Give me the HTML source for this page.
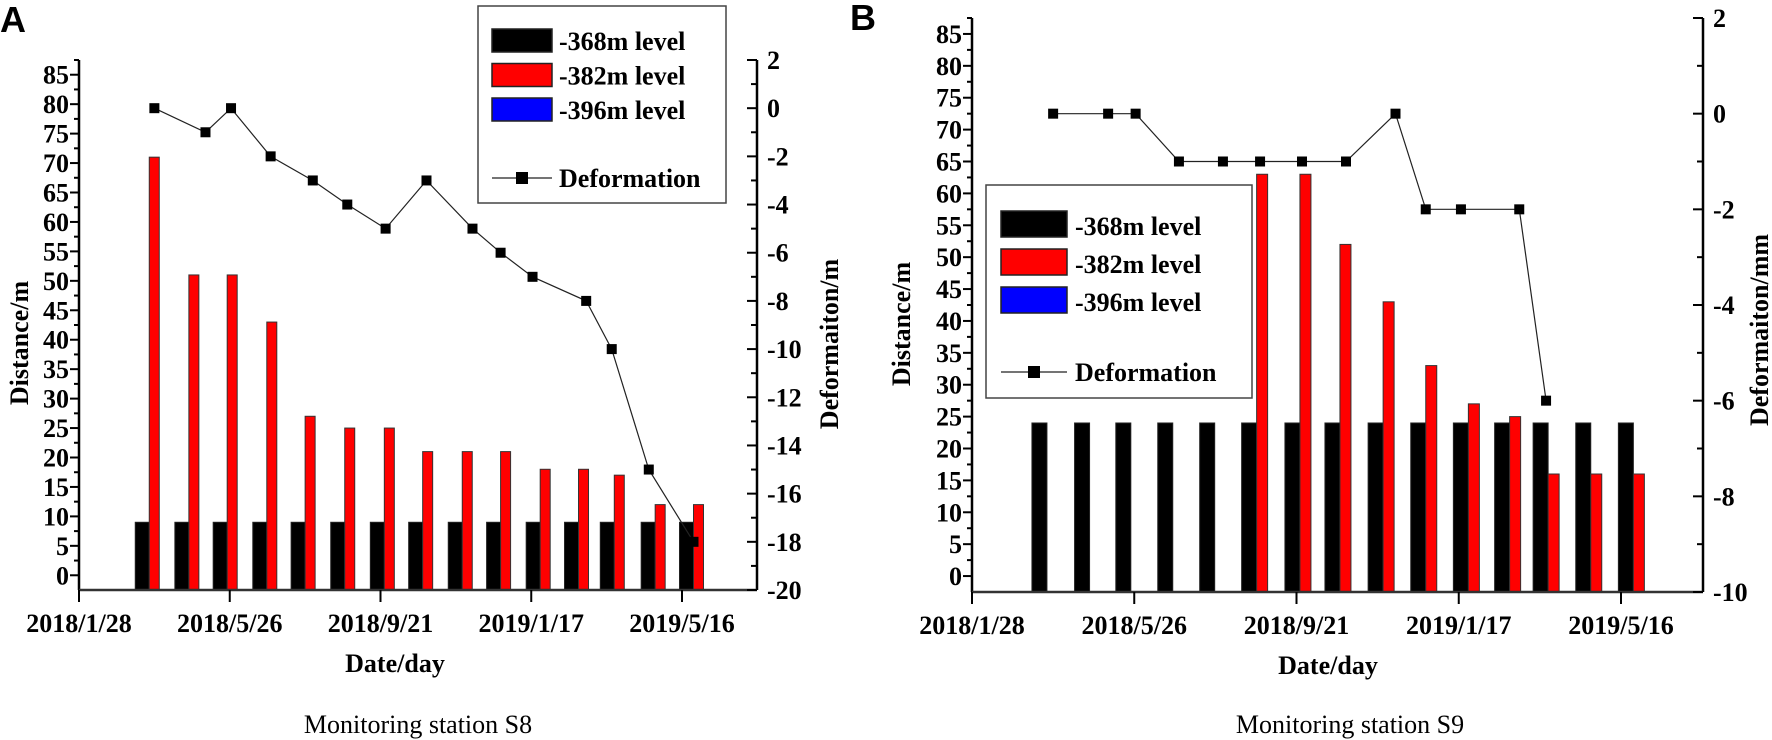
<!DOCTYPE html>
<html><head><meta charset="utf-8"><style>
html,body{margin:0;padding:0;background:#fff;}
svg{display:block;font-family:"Liberation Serif",serif;}
.tk{font-weight:bold;font-size:26px;fill:#000;}
.lg{font-weight:bold;font-size:26px;fill:#000;}
</style></head><body>
<svg id="chart" width="1772" height="740" viewBox="0 0 1772 740" xmlns="http://www.w3.org/2000/svg">
<text x="0" y="32" font-family="Liberation Sans, sans-serif" font-weight="bold" font-size="36">A</text>
<text x="850" y="30" font-family="Liberation Sans, sans-serif" font-weight="bold" font-size="36">B</text>
<text x="418" y="733" text-anchor="middle" font-size="26">Monitoring station S8</text>
<text x="1350" y="733" text-anchor="middle" font-size="26">Monitoring station S9</text>
</svg>
<script>
// x tick labels (days since 2018/1/28)
const xTickDays = [0, 118, 236, 354, 472];
const xTickLabels = ["2018/1/28", "2018/5/26", "2018/9/21", "2019/1/17", "2019/5/16"];
// Panel A (S8)
const aBarDays = [55, 86, 116, 147, 177, 208, 239, 269, 300, 330, 361, 391, 419, 451, 481];
const aLevel368 = [9, 9, 9, 9, 9, 9, 9, 9, 9, 9, 9, 9, 9, 9, 9];
const aLevel382 = [71, 51, 51, 43, 27, 25, 25, 21, 21, 21, 18, 18, 17, 12, 12];
const aDefDays = [59, 99, 119, 150, 183, 210, 240, 272, 308, 330, 355, 397, 417, 446, 481];
const aDeformation = [0, -1, 0, -2, -3, -4, -5, -3, -5, -6, -7, -8, -10, -15, -18];
const aLeftTicks = [0, 5, 10, 15, 20, 25, 30, 35, 40, 45, 50, 55, 60, 65, 70, 75, 80, 85];
const aRightTicks = [2, 0, -2, -4, -6, -8, -10, -12, -14, -16, -18, -20];
// Panel B (S9)
const bBarDays = [54.5, 85.5, 115.5, 146, 176.5, 207, 238.5, 267.6, 299, 330, 361, 391, 419, 450, 481];
const bLevel368 = [24, 24, 24, 24, 24, 24, 24, 24, 24, 24, 24, 24, 24, 24, 24];
const bLevel382 = [0, 0, 0, 0, 0, 63, 63, 52, 43, 33, 27, 25, 16, 16, 16];
const bDefDays = [59, 99, 119, 150.5, 182.5, 209.5, 240, 272, 308, 330, 355.6, 398, 417.5];
const bDeformation = [0, 0, 0, -1, -1, -1, -1, -1, 0, -2, -2, -2, -6];
const bLeftTicks = [0, 5, 10, 15, 20, 25, 30, 35, 40, 45, 50, 55, 60, 65, 70, 75, 80, 85];
const bRightTicks = [2, 0, -2, -4, -6, -8, -10];

const NS = "http://www.w3.org/2000/svg";
const svg = document.getElementById("chart");
function mk(tag, attrs, parent) {
  const e = document.createElementNS(NS, tag);
  for (const k in attrs) e.setAttribute(k, attrs[k]);
  (parent || svg).appendChild(e);
  return e;
}

function panel(p) {
  const g = mk("g", {});
  
  
  const x = d => p.x0 + (d - 0) * (p.xTick472 - p.x0) / 472;
  const yL = v => p.bottom - (v - p.lMin) * (p.bottom - p.top) / (p.lMax - p.lMin);
  const yR = v => p.bottom - (v - p.rMin) * (p.bottom - p.top) / (p.rMax - p.rMin);

  for (let i = 0; i < p.barDays.length; i++) {
    const c = x(p.barDays[i]);
    const h1 = yL(p.s368[i]);
    const b1 = mk("rect", {x: c - p.bw1, y: h1, width: p.bw1, height: p.bottom - h1, fill: "#000", stroke: "#222", "stroke-width": 1}, g);
    
    
    if (p.s382[i] > 0) {
      const h2 = yL(p.s382[i]);
      const b2 = mk("rect", {x: c, y: h2, width: p.bw2, height: p.bottom - h2, fill: "#ff0000", stroke: "#333", "stroke-width": 1}, g);
      
      
    }
  }
  const pts = p.defDays.map((d, i) => x(d).toFixed(1) + "," + yR(p.def[i]).toFixed(1)).join(" ");
  const pl = mk("polyline", {points: pts, fill: "none", stroke: "#222", "stroke-width": 1.2}, g);
  
  
  for (let i = 0; i < p.defDays.length; i++) {
    const m = mk("rect", {x: x(p.defDays[i]) - 5, y: yR(p.def[i]) - 5, width: 10, height: 10, fill: "#000"}, g);
    
    
  }
  const ax = mk("g", {stroke: "#000", "stroke-width": 2.5}, g);
  
  
  mk("line", {x1: p.x0, y1: p.top, x2: p.x0, y2: p.bottom}, ax);
  mk("line", {x1: p.xR, y1: p.top, x2: p.xR, y2: p.bottom}, ax);
  mk("line", {x1: p.x0, y1: p.bottom, x2: p.xR, y2: p.bottom, stroke: "#333"}, ax);
  for (let v = 0; v <= p.lMax; v += 2.5) {
    const major = v % 5 === 0;
    mk("line", {x1: p.x0 - (major ? 9 : 5), y1: yL(v), x2: p.x0, y2: yL(v), "stroke-width": 2}, ax);
  }
  p.lTicks.forEach(v => {
    const t = mk("text", {x: p.x0 - 10, y: yL(v) + 9, "text-anchor": "end", class: "tk"}, g);
    t.textContent = v;
    
    
  });
  for (let v = p.rMin; v <= p.rMax; v += 1) {
    const major = v % 2 === 0;
    mk("line", {x1: p.xR - (major ? 10 : 6), y1: yR(v), x2: p.xR, y2: yR(v), "stroke-width": 2}, ax);
  }
  p.rTicks.forEach(v => {
    const t = mk("text", {x: p.xR + 10, y: yR(v) + 9, class: "tk"}, g);
    t.textContent = v;
    
    
  });
  xTickDays.forEach((d, i) => {
    mk("line", {x1: x(d), y1: p.bottom, x2: x(d), y2: p.bottom + 12, "stroke-width": 2}, ax);
    const t = mk("text", {x: x(d), y: p.bottom + 42, "text-anchor": "middle", class: "tk"}, g);
    t.textContent = xTickLabels[i];
    
    
  });
  const xt = mk("text", {x: p.xTitleX, y: p.bottom + 82, "text-anchor": "middle", class: "tk"}, g);
  xt.textContent = "Date/day";
  
  
  const yt = mk("text", {x: 0, y: 0, "text-anchor": "middle", class: "tk", transform: `translate(${p.yTitleX},${p.yTitleY}) rotate(-90)`}, g);
  yt.textContent = "Distance/m";
  
  
  const rt = mk("text", {x: 0, y: 0, "text-anchor": "middle", class: "tk", transform: `translate(${p.rTitleX},${p.rTitleY}) rotate(-90)`}, g);
  rt.textContent = p.rTitle;
  
  
  const L = p.leg;
  const lg = mk("g", {}, g);
  
  
  mk("rect", {x: L.x, y: L.y, width: L.w, height: L.h, fill: "#fff", stroke: "#444", "stroke-width": 1.5}, lg);
  const cols = ["#000", "#ff0000", "#0000ff"], names = ["-368m level", "-382m level", "-396m level"];
  for (let i = 0; i < 3; i++) {
    const ry = L.y + L.r0 + i * L.dy;
    mk("rect", {x: L.sx, y: ry, width: L.sw, height: L.sh, fill: cols[i], stroke: "#222", "stroke-width": 1.5}, lg);
    const t = mk("text", {x: L.tx, y: ry + L.sh - 2, class: "lg"}, lg);
    t.textContent = names[i];
    
    
  }
  mk("line", {x1: L.sx, y1: L.ly, x2: L.sx + L.sw, y2: L.ly, stroke: "#222", "stroke-width": 1.2}, lg);
  mk("rect", {x: L.sx + L.sw / 2 - 6, y: L.ly - 6, width: 12, height: 12, fill: "#000"}, lg);
  const t = mk("text", {x: L.tx, y: L.ly + 9, class: "lg"}, lg);
  t.textContent = "Deformation";
  
  
}

panel({id: "s8", x0: 79, xR: 757, xTick472: 682, top: 60, bottom: 590, lMin: -2.5, lMax: 87.5, rMin: -20, rMax: 2,
  barDays: aBarDays, s368: aLevel368, s382: aLevel382, defDays: aDefDays, def: aDeformation,
  lTicks: aLeftTicks, rTicks: aRightTicks, bw1: 14, bw2: 10,
  xTitleX: 395, yTitleX: 28, yTitleY: 343, rTitleX: 838, rTitleY: 344, rTitle: "Deformaiton/m",
  leg: {x: 478, y: 6, w: 248, h: 197, sx: 492, sw: 60, sh: 23, r0: 23, dy: 34.5, tx: 559, ly: 178}});
panel({id: "s9", x0: 972, xR: 1703, xTick472: 1621, top: 18, bottom: 592, lMin: -2.5, lMax: 87.5, rMin: -10, rMax: 2,
  barDays: bBarDays, s368: bLevel368, s382: bLevel382, defDays: bDefDays, def: bDeformation,
  lTicks: bLeftTicks, rTicks: bRightTicks, bw1: 15, bw2: 11,
  xTitleX: 1328, yTitleX: 910, yTitleY: 324, rTitleX: 1768, rTitleY: 330, rTitle: "Deformaiton/mm",
  leg: {x: 986, y: 185, w: 266, h: 213, sx: 1001, sw: 66, sh: 26, r0: 26, dy: 38, tx: 1075, ly: 372}});
</script>
</body></html>
